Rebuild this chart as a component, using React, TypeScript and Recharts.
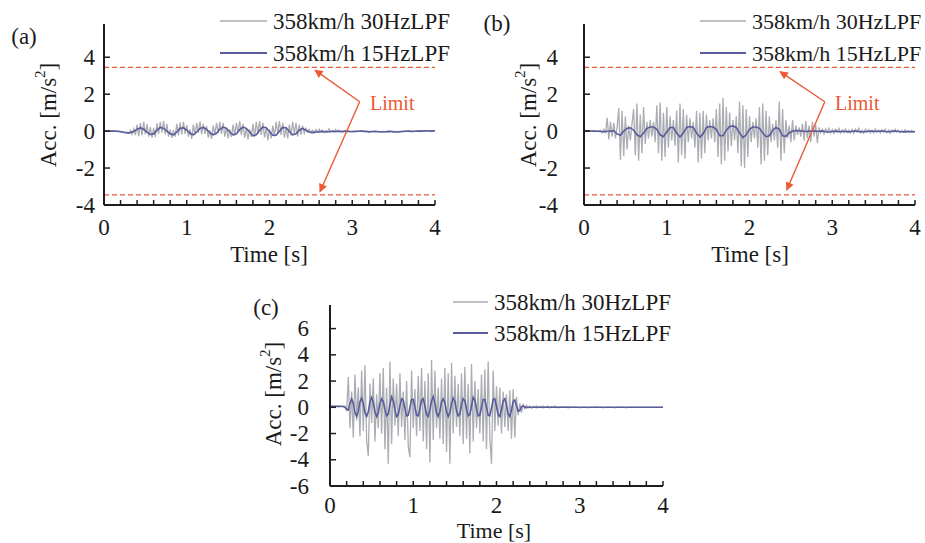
import React from 'react';
import { LineChart, Line, XAxis, YAxis, ReferenceLine } from 'recharts';

const FONT = '"Liberation Serif", "Times New Roman", serif';
const GRAY = '#abadb3';
const BLUE = '#585c9c';
const RED = '#ea5a35';
const AXIS = '#1e1e1e';

const SERIES_NAMES = ['358km/h 30HzLPF', '358km/h 15HzLPF'];
const X_TICKS = [0, 0.2, 0.4, 0.6, 0.8, 1, 1.2, 1.4, 1.6, 1.8, 2, 2.2, 2.4, 2.6, 2.8, 3, 3.2, 3.4, 3.6, 3.8, 4];
const Y_TICKS_AB = [-4, -2, 0, 2, 4];
const Y_TICKS_C = [-6, -4, -2, 0, 2, 4, 6];
const LIMIT = 3.45;

// sample interval of the read-off values [s]
const GRAY_STEP = 0.02;
const BLUE_STEP_AB = 0.04;
const BLUE_STEP_C = 0.02;

// (a) 30Hz LPF, every 0.02 s
const A_GRAY = [
  0, 0.01, 0, -0.01, 0, 0.01, 0, 0, -0.01, 0,
  -0.02, -0.04, -0.06, -0.09, -0.05, -0.13, 0.05, -0.16, 0.12, -0.22,
  0.35, -0.28, 0.45, -0.22, 0.5, -0.18, 0.38, -0.3, 0.22, -0.35,
  0.18, -0.32, 0.42, -0.15, 0.5, -0.08, 0.55, -0.18, 0.4, -0.3,
  0.08, -0.36, 0.05, -0.3, 0.4, -0.22, 0.46, -0.18, 0.5, -0.15,
  0.32, -0.3, 0.1, -0.42, 0.35, -0.2, 0.45, -0.1, 0.52, -0.18,
  0.4, -0.15, 0.28, -0.35, 0.05, -0.42, 0.3, -0.2, 0.45, -0.1,
  0.5, -0.15, 0.45, -0.3, 0.2, -0.4, 0.1, -0.32, 0.35, -0.25,
  0.45, -0.1, 0.55, -0.2, 0.4, -0.35, 0.15, -0.45, 0.1, -0.3,
  0.4, -0.3, 0.5, -0.15, 0.55, -0.2, 0.45, -0.35, 0.2, -0.5,
  0.1, -0.4, 0.3, -0.3, 0.5, -0.1, 0.55, -0.2, 0.45, -0.35,
  0.2, -0.4, 0.35, -0.25, 0.5, -0.15, 0.45, -0.3, 0.35, -0.2,
  0.3, -0.12, 0.15, -0.05, 0.1, -0.08, 0.05, -0.1, 0.08, -0.05,
  0.1, -0.03, 0.06, -0.08, 0.04, -0.02, 0.12, -0.05, 0.03, -0.06,
  0.08, -0.02, 0.05, -0.05, 0.02, 0, 0.04, -0.03, 0.02, -0.02,
  0.01, -0.01, 0.02, 0, -0.01, 0.01, 0, -0.02, 0.01, 0,
  -0.02, -0.04, -0.01, -0.03, -0.05, -0.02, -0.04, -0.01, -0.03, -0.02,
  -0.05, -0.03, -0.06, -0.02, -0.04, -0.05, -0.02, -0.03, -0.01, -0.02,
  -0.01, -0.02, 0, -0.01, 0.01, -0.01, 0.01, 0, 0.02, 0,
  0.01, 0.02, 0, 0.01, 0.02, 0.01, 0.03, 0.01, 0.02, 0.01,
  0.02,
];

// (a) 15Hz LPF, every 0.04 s
const A_BLUE = [
  0, 0, 0, 0, -0.01, -0.03, -0.06, -0.1, -0.08, -0.02,
  0.1, 0.17, 0.1, -0.05, -0.18, -0.15, 0.05, 0.2, 0.15, 0,
  -0.15, -0.2, -0.05, 0.15, 0.18, 0.05, -0.12, -0.2, -0.05, 0.15,
  0.2, 0.1, -0.1, -0.2, -0.12, 0.1, 0.22, 0.15, -0.05, -0.2,
  -0.15, 0.08, 0.22, 0.15, -0.05, -0.25, -0.2, 0.05, 0.22, 0.18,
  -0.02, -0.22, -0.22, 0, 0.2, 0.18, -0.02, -0.2, -0.15, 0.05,
  0.15, 0.05, -0.05, -0.08, -0.05, -0.04, -0.02, -0.05, -0.03, -0.01,
  -0.02, -0.01, -0.03, 0, -0.02, -0.03, -0.02, -0.01, 0, -0.02,
  -0.04, -0.02, -0.01, -0.03, -0.05, -0.03, -0.01, -0.02, -0.04, -0.05,
  -0.02, -0.01, 0, -0.02, -0.01, 0.01, 0, 0.02, 0.01, 0,
  0.02,
];

// (b) 30Hz LPF, every 0.02 s
const B_GRAY = [
  0, 0.02, -0.01, 0.01, 0, -0.02, 0.01, 0.03, -0.02, 0.02,
  0.05, -0.08, 0.1, -0.12, 0.72, -0.45, 0.5, -0.3, 0.45, -0.4,
  0.2, 1.25, -1.55, 1.1, -1.35, 0.8, -1.0, 0.3, -0.5, 0.4,
  1.2, -1.3, 1.5, -1.6, 0.9, -1.2, 1.3, -0.7, 0.5, -0.4,
  0.6, -0.3, 0.5, -0.6, 1.4, -1.2, 1.55, -1.6, 1.0, -1.4,
  1.3, -0.9, 0.8, -0.5, 0.6, -0.8, 1.1, -1.7, 1.5, -1.3,
  1.2, -1.5, 0.9, -0.6, 0.7, -0.4, 0.5, -0.9, 1.1, -1.7,
  1.0, -1.5, 1.1, -1.2, 0.9, -0.5, 0.6, -0.4, 0.7, -0.6,
  1.2, -1.4, 1.5, -1.8, 1.8, -1.6, 1.3, -1.1, 1.0, -0.8,
  0.6, -0.5, 0.8, -1.2, 1.6, -1.9, 1.4, -2.0, 1.2, -1.4,
  0.8, -0.6, 0.5, -0.4, 0.7, -0.9, 1.3, -1.8, 1.5, -1.6,
  1.1, -1.3, 0.8, -0.6, 0.4, -0.5, 0.6, -0.9, 1.6, -1.6,
  1.2, -1.2, 0.6, -0.4, 0.3, -0.6, 0.6, -0.5, 0.3, -0.2,
  0.2, -0.3, 0.4, -0.5, 0.55, -0.4, 0.3, -0.6, 0.5, -0.3,
  0.35, -0.65, 0.2, -0.1, 0.1, -0.15, 0.12, -0.08, 0.15, -0.1,
  0.08, -0.12, 0.1, -0.05, 0.14, -0.1, 0.06, -0.08, 0.12, -0.06,
  0.05, -0.1, 0.08, -0.12, 0.1, -0.04, 0.15, -0.08, 0.06, -0.1,
  0.1, -0.05, 0.08, -0.1, 0.04, -0.08, 0.12, -0.06, 0.05, -0.1,
  0.08, -0.04, 0.1, -0.08, 0.06, -0.12, 0.05, -0.06, 0.1, -0.05,
  0.06, -0.08, 0.04, -0.06, 0.08, -0.05, 0.03, -0.07, 0.05, -0.04,
  0,
];

// (b) 15Hz LPF, every 0.04 s
const B_BLUE = [
  0, 0.02, 0.01, 0, -0.01, -0.02, -0.03, -0.01, 0, 0.02,
  -0.15, -0.22, 0, 0.15, 0.18, 0.05, -0.2, -0.3, -0.1, 0.15,
  0.22, 0.22, 0.1, -0.2, -0.3, -0.05, 0.2, 0.2, -0.1, -0.32,
  -0.1, 0.2, 0.25, 0.2, -0.1, -0.32, -0.15, 0.2, 0.25, 0.22,
  0.1, -0.25, -0.25, 0.05, 0.25, 0.28, 0.2, -0.1, -0.35, -0.2,
  0.1, 0.22, 0.22, 0.15, -0.1, -0.3, -0.25, 0.05, 0.2, 0.1,
  -0.25, -0.28, -0.1, 0, 0.03, 0.02, 0, -0.02, 0, -0.01,
  0, -0.02, 0.01, -0.03, -0.05, -0.02, 0, -0.03, -0.01, -0.02,
  -0.04, -0.01, 0, -0.02, -0.05, -0.03, -0.01, 0, -0.02, -0.01,
  0, -0.02, -0.03, -0.01, 0.01, -0.02, -0.03, -0.04, -0.02, -0.03,
  -0.03,
];

// (c) 30Hz LPF, every 0.02 s
const C_GRAY = [
  0.05, 0.06, 0.04, 0.05, 0.07, 0.05, 0.04, 0.06, 0.05, 0.1,
  -0.3, 2.3, -1.6, 1.2, -2.3, 2.5, -1.0, 1.5, -2.2, 2.8,
  -1.8, 3.2, -2.5, -3.7, 1.8, -1.2, 2.2, -2.6, 1.0, -1.6,
  2.6, -2.0, 3.0, -3.2, 1.5, -4.3, 3.5, -2.8, 2.2, -1.4,
  1.8, -2.2, 2.6, -1.5, 1.2, -2.5, 2.0, -3.0, -3.8, 2.8,
  -1.6, 1.4, -2.2, 2.4, -1.8, 3.0, -2.6, 2.0, -3.2, 2.6,
  -4.2, 3.6, -2.5, 2.8, -1.6, 1.5, -2.4, 2.2, -2.8, 3.0,
  -3.4, 2.6, -4.3, 3.4, -2.0, 2.4, -1.5, 1.8, -2.2, 2.6,
  -2.8, 3.1, -2.4, 1.8, -3.5, 3.3, -2.6, 2.0, -1.6, 1.4,
  -2.0, 2.5, -2.6, 2.9, -3.2, 3.5, -2.4, -4.3, 2.8, -1.8,
  1.6, -1.4, 1.5, -2.0, 1.2, -1.5, 1.0, -1.8, 1.3, -2.4,
  1.4, -2.3, 0.8, -0.6, 0.3, -0.4, 0.2, -0.1, 0.15, -0.05,
  0.1, -0.05, 0.08, 0, 0.12, -0.03, 0.06, 0.02, 0.1, 0,
  0.05, 0.08, 0.02, 0.06, 0, 0.1, 0.03, 0, 0.05, 0,
  0, 0.04, 0, 0.06, 0, 0.02, 0, 0.03, 0, 0,
  0, 0, 0, 0, 0, 0, 0, 0, 0, 0,
  0.04, 0, 0, 0, 0, 0, 0, 0, 0, 0,
  0, 0, 0, 0, 0, 0.03, 0, 0, 0, 0,
  0, 0, 0, 0, 0, 0, 0, 0, 0, 0,
  0, 0, 0, 0, 0, 0, 0, 0, 0, 0,
  0,
];

// (c) 15Hz LPF, every 0.02 s
const C_BLUE = [
  0.08, 0.08, 0.07, 0.08, 0.08, 0.07, 0.08, 0.08, 0.06, 0,
  -0.15, -0.2, 0.3, 0.65, 0.3, -0.4, -0.7, -0.3, 0.4, 0.7,
  0.3, -0.4, -0.7, -0.35, 0.4, 0.75, 0.35, -0.35, -0.7, -0.4,
  0.3, 0.65, 0.45, -0.2, -0.65, -0.5, 0.2, 0.8, 0.5, -0.2,
  -0.7, -0.55, 0.1, 0.65, 0.55, -0.1, -0.65, -0.6, 0, 0.6,
  0.6, 0, -0.6, -0.65, -0.1, 0.55, 0.65, 0.1, -0.55, -0.7,
  -0.2, 0.5, 0.8, 0.3, -0.45, -0.7, -0.3, 0.4, 0.65, 0.35,
  -0.35, -0.7, -0.4, 0.3, 0.7, 0.45, -0.25, -0.65, -0.5, 0.2,
  0.65, 0.5, -0.15, -0.65, -0.55, 0.1, 0.75, 0.55, -0.1, -0.65,
  -0.6, 0, 0.6, 0.6, 0, -0.6, -0.65, -0.05, 0.6, 0.65,
  0.05, -0.55, -0.7, -0.15, 0.5, 0.65, 0.15, -0.5, -0.7, -0.2,
  0.45, 0.55, 0.1, -0.3, -0.25, 0.05, 0.1, 0.02, -0.02, 0,
  0, -0.01, 0, 0, -0.01, 0, 0, 0, -0.01, 0,
  0, 0, -0.01, 0, 0, 0, 0, -0.01, 0, 0,
  0, 0, 0, -0.01, 0, 0, 0, 0, 0, 0,
  -0.01, 0, 0, 0, 0, -0.01, 0, 0, 0, 0,
  0, 0, 0, 0, -0.01, 0, 0, 0, 0, 0,
  0, -0.01, 0, 0, 0, 0, 0, 0, -0.01, 0,
  0, 0, 0, 0, 0, 0, 0, 0, 0, 0,
  0, 0, 0, 0, 0, 0, 0, 0, 0, 0,
  0,
];

// "Limit" arrows: [start, tip] in data units (time, acc)
const ARROWS_A = [
  [{ x: 3.09, y: 1.59 }, { x: 2.55, y: 3.3 }],
  [{ x: 3.09, y: 1.59 }, { x: 2.61, y: -3.28 }],
];
const ARROWS_B = [
  [{ x: 2.91, y: 1.59 }, { x: 2.37, y: 3.22 }],
  [{ x: 2.91, y: 1.59 }, { x: 2.45, y: -3.19 }],
];

const toSeries = (values: number[], step: number) =>
  values.map((v, i) => ({ t: Math.round(i * step * 1000) / 1000, v }));

const textStyle = { fontFamily: FONT, fontSize: 23, fill: '#1a1a1a' };

const XTick = (props: any) => {
  const { x, y, payload, labelDy } = props;
  const v = payload.value;
  const major = Math.abs(v - Math.round(v)) < 1e-6;
  return (
    <g>
      <line x1={x} x2={x} y1={y} y2={y - 5} stroke={AXIS} strokeWidth={1.5} />
      {major && (
        <text x={x} y={y + labelDy} textAnchor="middle" dominantBaseline="central" style={textStyle}>
          {Math.round(v)}
        </text>
      )}
    </g>
  );
};

const YTick = (props: any) => {
  const { x, y, payload, gap } = props;
  return (
    <g>
      <line x1={x} x2={x + 6} y1={y} y2={y} stroke={AXIS} strokeWidth={1.5} />
      <text x={x - gap} y={y} textAnchor="end" dominantBaseline="central" style={textStyle}>
        {payload.value}
      </text>
    </g>
  );
};

const ArrowShape = (props: any) => (
  <line
    x1={props.x1}
    y1={props.y1}
    x2={props.x2}
    y2={props.y2}
    stroke={RED}
    strokeWidth={1.4}
    markerEnd="url(#limitArrow)"
  />
);

function Panel(p: any) {
  return (
    <div style={{ position: 'absolute', left: p.left, top: p.top }}>
      <LineChart width={p.width} height={p.height} margin={p.margin}>
        <XAxis
          type="number"
          dataKey="t"
          domain={[0, 4]}
          ticks={X_TICKS}
          interval={0}
          allowDataOverflow
          height={p.xAxisHeight}
          tickSize={0}
          tickMargin={0}
          tickLine={false}
          axisLine={{ stroke: AXIS, strokeWidth: 2 }}
          tick={(tp: any) => <XTick {...tp} labelDy={p.xLabelDy} />}
        />
        <YAxis
          type="number"
          domain={p.yDomain}
          ticks={p.yTicks}
          interval={0}
          allowDataOverflow
          width={p.yAxisWidth}
          tickSize={0}
          tickMargin={0}
          tickLine={false}
          axisLine={{ stroke: AXIS, strokeWidth: 2 }}
          tick={(tp: any) => <YTick {...tp} gap={p.yLabelGap} />}
        />
        {p.limit && <ReferenceLine y={p.limit} stroke={RED} strokeWidth={1.3} strokeDasharray="5 3" />}
        {p.limit && <ReferenceLine y={-p.limit} stroke={RED} strokeWidth={1.3} strokeDasharray="5 3" />}
        <Line
          data={p.gray}
          dataKey="v"
          type="linear"
          stroke={GRAY}
          strokeWidth={1.3}
          dot={false}
          activeDot={false}
          isAnimationActive={false}
        />
        <Line
          data={p.blue}
          dataKey="v"
          type="linear"
          stroke={BLUE}
          strokeWidth={1.6}
          dot={false}
          activeDot={false}
          isAnimationActive={false}
        />
        {(p.arrows || []).map((seg: any, i: number) => (
          <ReferenceLine key={i} segment={seg} shape={ArrowShape} />
        ))}
      </LineChart>
    </div>
  );
}

function LegendRows({ x, y1, y2, len, size }: { x: number; y1: number; y2: number; len: number; size: number }) {
  const st = { ...textStyle, fontSize: size };
  return (
    <g>
      <line x1={x} x2={x + len} y1={y1} y2={y1} stroke={GRAY} strokeWidth={1.6} />
      <text x={x + len + 6} y={y1} dominantBaseline="central" style={st}>{SERIES_NAMES[0]}</text>
      <line x1={x} x2={x + len} y1={y2} y2={y2} stroke={BLUE} strokeWidth={1.8} />
      <text x={x + len + 6} y={y2} dominantBaseline="central" style={st}>{SERIES_NAMES[1]}</text>
    </g>
  );
}

function AccTitle({ x, y }: { x: number; y: number }) {
  return (
    <text x={x} y={y} transform={`rotate(-90 ${x} ${y})`} textAnchor="middle" dominantBaseline="central" style={textStyle}>
      Acc. [m/s<tspan dy={-8} fontSize={15}>2</tspan><tspan dy={8}>]</tspan>
    </text>
  );
}

export default function App() {
  return (
    <div style={{ position: 'absolute', left: 0, top: 0, width: 925, height: 543, background: '#fff', overflow: 'hidden' }}>
      <Panel
        left={0}
        top={0}
        width={460}
        height={270}
        margin={{ top: 24, right: 25, left: 0, bottom: 0 }}
        yAxisWidth={104}
        xAxisHeight={65}
        yDomain={[-4, 5.8]}
        yTicks={Y_TICKS_AB}
        yLabelGap={9}
        xLabelDy={22}
        limit={LIMIT}
        arrows={ARROWS_A}
        gray={toSeries(A_GRAY, GRAY_STEP)}
        blue={toSeries(A_BLUE, BLUE_STEP_AB)}
      />
      <Panel
        left={460}
        top={0}
        width={465}
        height={270}
        margin={{ top: 24, right: 10, left: 0, bottom: 0 }}
        yAxisWidth={124}
        xAxisHeight={65}
        yDomain={[-4, 5.8]}
        yTicks={Y_TICKS_AB}
        yLabelGap={26}
        xLabelDy={22}
        limit={LIMIT}
        arrows={ARROWS_B}
        gray={toSeries(B_GRAY, GRAY_STEP)}
        blue={toSeries(B_BLUE, BLUE_STEP_AB)}
      />
      <Panel
        left={240}
        top={280}
        width={440}
        height={263}
        margin={{ top: 25, right: 17, left: 0, bottom: 0 }}
        yAxisWidth={90}
        xAxisHeight={57}
        yDomain={[-6, 7.8]}
        yTicks={Y_TICKS_C}
        yLabelGap={21}
        xLabelDy={19}
        gray={toSeries(C_GRAY, GRAY_STEP)}
        blue={toSeries(C_BLUE, BLUE_STEP_C)}
      />
      <svg width={925} height={543} style={{ position: 'absolute', left: 0, top: 0, pointerEvents: 'none' }}>
        <defs>
          <marker id="limitArrow" viewBox="0 0 10 10" refX={9} refY={5} markerWidth={7} markerHeight={6} orient="auto">
            <path d="M0,0 L10,5 L0,10 z" fill={RED} />
          </marker>
        </defs>
        <text x={24} y={36} textAnchor="middle" dominantBaseline="central" style={textStyle}>(a)</text>
        <text x={497} y={23} textAnchor="middle" dominantBaseline="central" style={textStyle}>(b)</text>
        <text x={266} y={307} textAnchor="middle" dominantBaseline="central" style={textStyle}>(c)</text>

        <LegendRows x={220} y1={21} y2={53} len={47} size={23} />
        <LegendRows x={700} y1={21} y2={53} len={46} size={22} />
        <LegendRows x={453} y1={302} y2={333} len={35} size={23} />

        <text x={370} y={103} dominantBaseline="central" style={{ ...textStyle, fontSize: 20, fill: RED }}>Limit</text>
        <text x={835} y={103} dominantBaseline="central" style={{ ...textStyle, fontSize: 20, fill: RED }}>Limit</text>

        <AccTitle x={48} y={115} />
        <AccTitle x={528} y={115} />
        <AccTitle x={273} y={394} />

        <text x={269} y={254} textAnchor="middle" dominantBaseline="central" style={textStyle}>Time [s]</text>
        <text x={750} y={254} textAnchor="middle" dominantBaseline="central" style={textStyle}>Time [s]</text>
        <text x={494} y={530} textAnchor="middle" dominantBaseline="central" style={{ ...textStyle, fontSize: 22 }}>Time [s]</text>
      </svg>
    </div>
  );
}
